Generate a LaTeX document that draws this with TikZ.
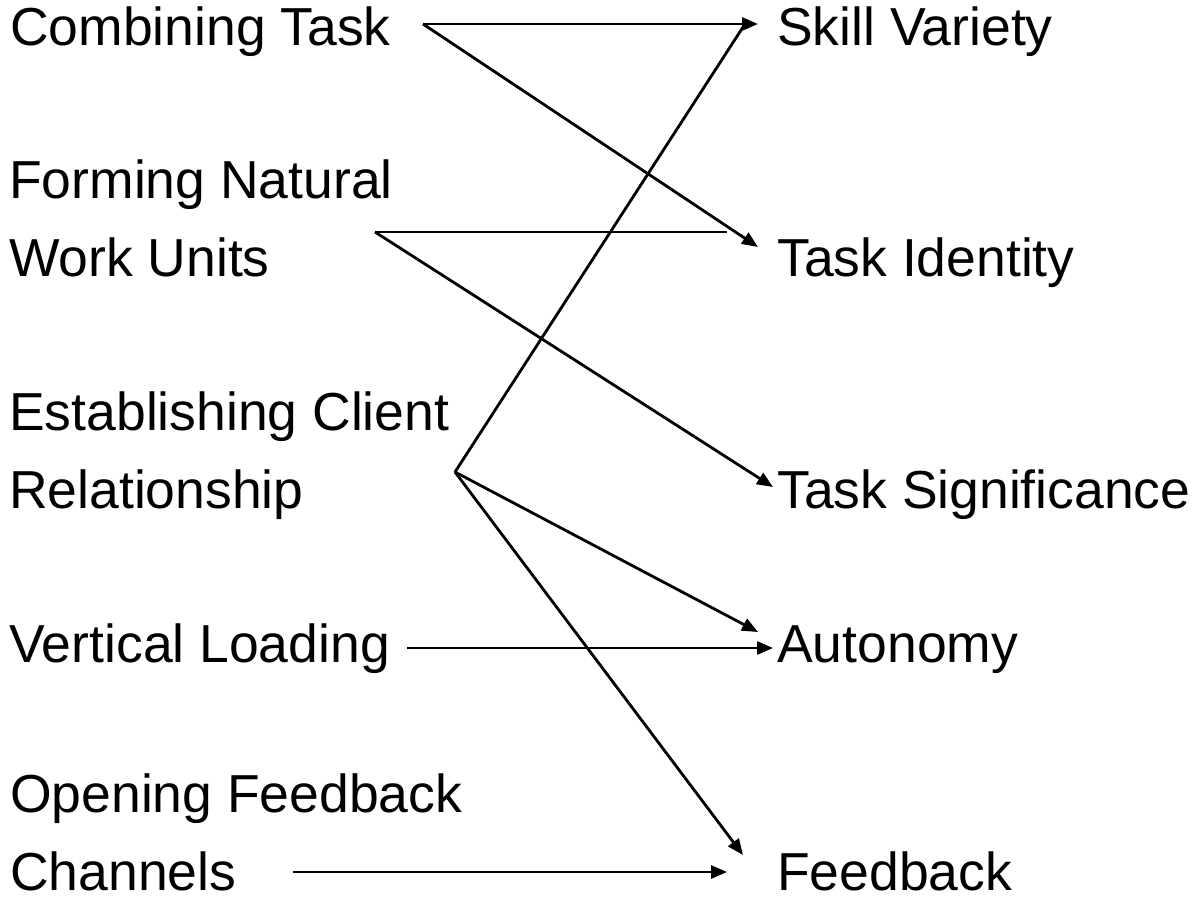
\documentclass[tikz,border=0pt]{standalone}
\usepackage{fontspec}
\setmainfont{Liberation Sans}
\usetikzlibrary{arrows.meta}
\tikzset{
  lbl/.style={anchor=base west, inner sep=0pt, align=left, font=\fontsize{53.5}{78}\selectfont},
  conn/.style={line width=2.8pt, -{Triangle[length=16pt,width=13pt]}},
  plain/.style={line width=2.8pt}
}
\begin{document}
\begin{tikzpicture}[x=1pt,y=-1pt]
\useasboundingbox (0,0) rectangle (1198,900);
% left column (multi-line nodes anchored at last line baseline)
\node[lbl] (ct) at (10,45) {Combining Task};
\node[lbl] (fn) at (9,276) {Forming Natural\\Work Units};
\node[lbl] (ec) at (9,508) {Establishing Client\\Relationship};
\node[lbl] (vl) at (9,662) {Vertical Loading};
\node[lbl] (of) at (10,890) {Opening Feedback\\Channels};
% right column
\node[lbl] (sv) at (777,45) {Skill Variety};
\node[lbl] (ti) at (777,276) {Task Identity};
\node[lbl] (ts) at (777,508) {Task Significance};
\node[lbl] (au) at (777,662) {Autonomy};
\node[lbl] (fb) at (777,890) {Feedback};
% connector points
\coordinate (ctO) at (423,24);
\coordinate (fnO) at (375,232);
\coordinate (fnE) at (727,232);
\coordinate (ecO) at (455,472);
\coordinate (vlO) at (407,648);
\coordinate (ofO) at (293,872);
\coordinate (svI) at (758,24);
\coordinate (svJ) at (745,24);
\coordinate (tiI) at (758,247);
\coordinate (tsI) at (773,487);
\coordinate (auI) at (758,632);
\coordinate (auJ) at (773,648);
\coordinate (fbI) at (743,855);
\coordinate (fbJ) at (727,872);
% connectors
\draw[conn] (ctO) -- (svI);
\draw[conn] (ctO) -- (tiI);
\draw[plain] (fnO) -- (fnE);
\draw[conn] (fnO) -- (tsI);
\draw[plain] (ecO) -- (svJ);
\draw[conn] (ecO) -- (auI);
\draw[conn] (ecO) -- (fbI);
\draw[conn] (vlO) -- (auJ);
\draw[conn] (ofO) -- (fbJ);
\end{tikzpicture}
\end{document}
